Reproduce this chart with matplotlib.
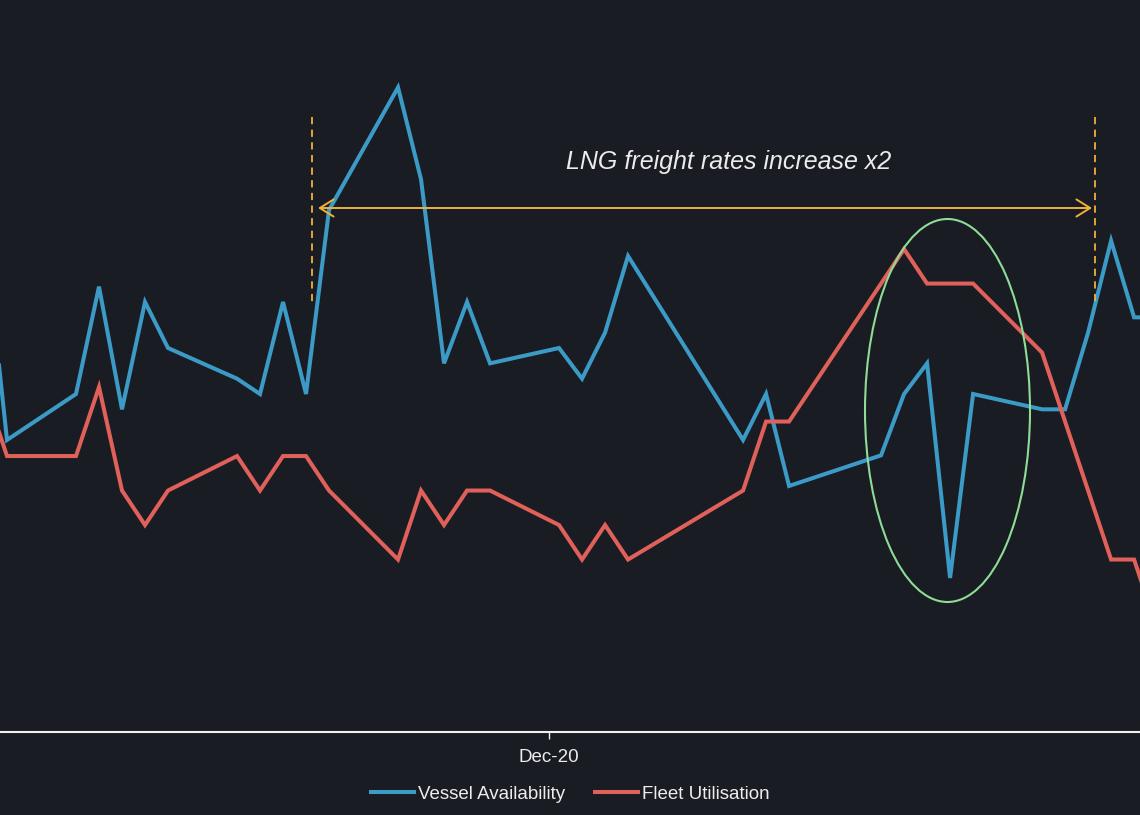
import matplotlib
matplotlib.use("Agg")
import matplotlib.pyplot as plt
import matplotlib.dates as mdates
from matplotlib.patches import Ellipse
from matplotlib.lines import Line2D
import pandas as pd

plt.rcParams['font.family'] = ['Liberation Sans', 'DejaVu Sans']

# ---------------- data ----------------
dates = ["2020-06-12", "2020-06-19", "2020-07-10", "2020-07-17", "2020-07-24",
         "2020-07-31", "2020-08-07", "2020-08-28", "2020-09-04", "2020-09-11",
         "2020-09-18", "2020-09-25", "2020-10-16", "2020-10-23", "2020-10-30",
         "2020-11-06", "2020-11-13", "2020-12-04", "2020-12-11", "2020-12-18",
         "2020-12-25", "2021-01-29", "2021-02-05", "2021-02-12", "2021-03-12",
         "2021-03-19", "2021-03-26", "2021-04-02", "2021-04-09", "2021-04-30",
         "2021-05-07", "2021-05-14", "2021-05-21", "2021-05-28", "2021-06-04"]

vessel_availability = [34, 20, 23, 30, 22, 29, 26, 24, 23, 29,
                       23, 35, 43, 37, 25, 29, 25, 26, 24, 27,
                       32, 20, 23, 17, 19, 23, 25, 11, 23, 22,
                       22, 27, 33, 28, 28]

fleet_utilisation = [92, 90, 90, 92, 89, 88, 89, 90, 89, 90,
                     90, 89, 87, 89, 88, 89, 89, 88, 87, 88,
                     87, 89, 91, 91, 95, 96, 95, 95, 95, 93,
                     91, 89, 87, 87, 85]

tick_dates = ["2020-12-01"]
tick_labels = ["Dec-20"]
series_labels = ["Vessel Availability", "Fleet Utilisation"]

# ---------------- style ----------------
BG = "#1a1c23"
BLUE = "#3b9ac6"
RED = "#e0605a"
ORANGE = "#f0b03c"
GREEN = "#8fdc96"
TXT = "#ececec"

W, H = 1140, 815
fig = plt.figure(figsize=(W / 100, H / 100), dpi=100, facecolor=BG)
ax = fig.add_axes([0, (H - 732) / H, 1, 732 / H])
ax.set_facecolor(BG)
ax2 = ax.twinx()

x = pd.to_datetime(dates)
l1, = ax.plot(x, vessel_availability, color=BLUE, lw=2.9, solid_joinstyle='miter',
              label=series_labels[0], zorder=3)
l2, = ax2.plot(x, fleet_utilisation, color=RED, lw=2.9, solid_joinstyle='miter',
               label=series_labels[1], zorder=3)

start = mdates.date2num(pd.Timestamp("2020-06-19"))
ax.set_xlim(start - 2.13, start + 344.8)
ax.set_ylim(0.952, 48.70)
ax2.set_ylim(82.0, 103.22)

for a in (ax, ax2):
    for s in ("top", "left", "right", "bottom"):
        a.spines[s].set_visible(False)
    a.set_yticks([])
ax.spines["bottom"].set_visible(True)
ax.spines["bottom"].set_color("#f0f0f0")
ax.spines["bottom"].set_linewidth(1.5)

ax.set_xticks(pd.to_datetime(tick_dates))
ax.set_xticklabels(tick_labels)
ax.tick_params(axis='x', colors="#f0f0f0", length=5, width=1, pad=7, labelsize=13.5)
for lab in ax.get_xticklabels():
    lab.set_color(TXT)

# ---------------- annotations (figure pixel positions) ----------------
def fx(px):
    return px / W

def fy(py):
    return 1 - py / H

for xp in (312, 1095):
    fig.add_artist(Line2D([fx(xp), fx(xp)], [fy(117), fy(304)], transform=fig.transFigure,
                          color=ORANGE, lw=1.3, dashes=(4, 3)))

ax.annotate("", xy=(fx(318), fy(208)), xytext=(fx(1092), fy(208)),
            xycoords=fig.transFigure, textcoords=fig.transFigure,
            arrowprops=dict(arrowstyle="<->,head_length=0.45,head_width=0.28",
                            color=ORANGE, lw=1.4, shrinkA=0, shrinkB=0,
                            mutation_scale=22))

fig.text(fx(729), fy(162), "LNG freight rates increase x2", ha="center", va="center",
         fontsize=18, style="italic", color=TXT)

fig.add_artist(Ellipse((fx(947.5), fy(410.5)), 165 / W, 383 / H, transform=fig.transFigure,
                       fill=False, edgecolor=GREEN, lw=1.5, zorder=4))

leg = fig.legend(handles=[l1, l2], loc="center", bbox_to_anchor=(0.5, (H - 794) / H),
                 ncol=2, frameon=False, fontsize=13.5, handlelength=2.3,
                 handletextpad=0.2, columnspacing=1.6)
for t in leg.get_texts():
    t.set_color(TXT)

fig.savefig("out.png", dpi=100, facecolor=BG)
